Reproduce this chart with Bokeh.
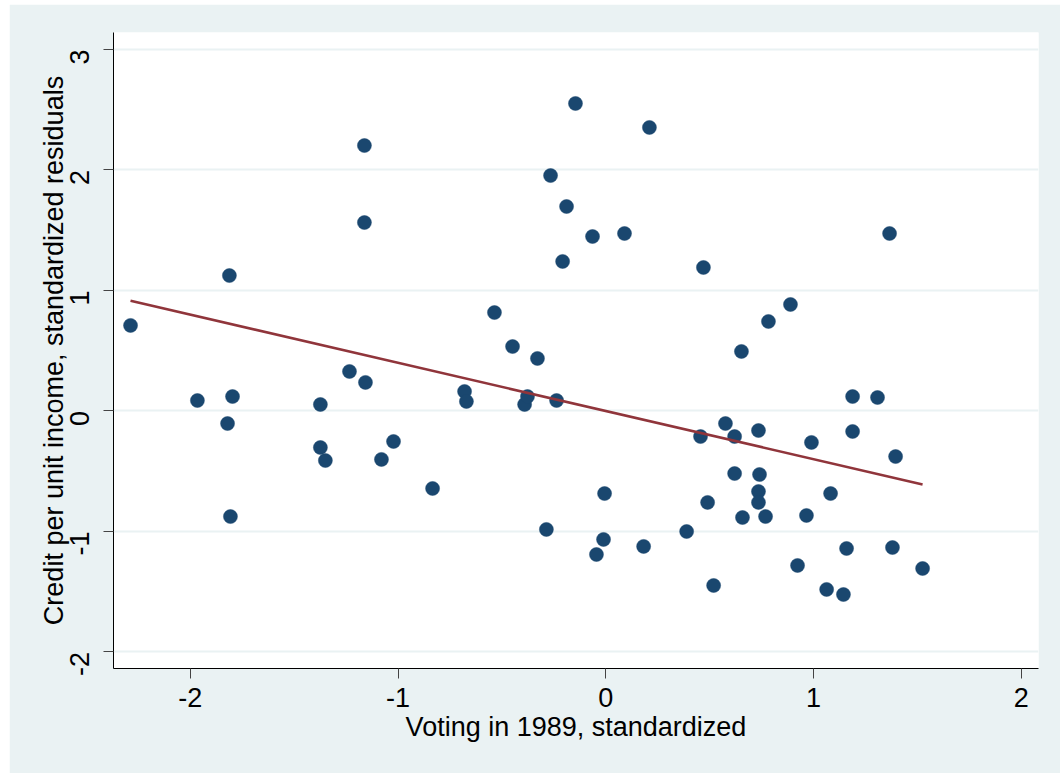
import math
from bokeh.plotting import figure
from bokeh.models import Range1d, FixedTicker, ColumnDataSource, CustomJSTickFormatter
from bokeh.embed import file_html
from bokeh.resources import INLINE

# Data
voting_1989 = [-2.288, -1.966, -1.812, -1.797, -1.821, -1.807, -1.374, -1.374, -1.350, -1.234,
               -1.157, -1.162, -1.162, -1.080, -1.022, -0.834, -0.680, -0.671, -0.536, -0.449,
               -0.391, -0.377, -0.329, -0.286, -0.266, -0.237, -0.208, -0.189, -0.146, -0.064,
               -0.045, -0.011, -0.006, 0.090, 0.182, 0.210, 0.389, 0.456, 0.470, 0.490,
               0.519, 0.576, 0.620, 0.620, 0.653, 0.658, 0.735, 0.740, 0.735, 0.735,
               0.769, 0.783, 0.889, 0.923, 0.966, 0.990, 1.063, 1.082, 1.144, 1.159,
               1.188, 1.188, 1.308, 1.366, 1.380, 1.395, 1.525]
credit_resid = [0.710, 0.087, 1.124, 0.120, -0.104, -0.876, 0.054, -0.303, -0.411, 0.328,
                0.237, 2.203, 1.564, -0.402, -0.253, -0.643, 0.162, 0.079, 0.817, 0.535,
                0.054, 0.120, 0.436, -0.983, 1.954, 0.087, 1.241, 1.697, 2.552, 1.448,
                -1.191, -1.066, -0.685, 1.473, -1.124, 2.353, -1.000, -0.212, 1.191, -0.759,
                -1.448, -0.104, -0.212, -0.519, 0.494, -0.884, -0.162, -0.527, -0.668, -0.759,
                -0.876, 0.743, 0.884, -1.282, -0.867, -0.261, -1.481, -0.685, -1.523, -1.141,
                0.120, -0.170, 0.112, 1.473, -1.133, -0.378, -1.307]
x_ticks = [-2, -1, 0, 1, 2]
y_ticks = [-2, -1, 0, 1, 2, 3]
fit_intercept = 0.0
fit_slope = -0.40

fit_x = [min(voting_1989), max(voting_1989)]
fit_y = [fit_intercept + fit_slope * v for v in fit_x]

FONT = "Liberation Sans"
BG = "#EAF2F3"

p = figure(width=1051, height=769, output_backend="svg", toolbar_location=None,
           x_range=Range1d(-2.370, 2.083), y_range=Range1d(-2.137, 3.141),
           min_border_left=104, min_border_right=22, min_border_top=28, min_border_bottom=105,
           margin=(4, 0, 0, 9))
p.background_fill_color = "white"
p.border_fill_color = BG
p.outline_line_color = None

p.xgrid.visible = False
p.ygrid.grid_line_color = BG
p.ygrid.grid_line_width = 2

p.xaxis.ticker = FixedTicker(ticks=x_ticks)
p.yaxis.ticker = FixedTicker(ticks=y_ticks)
fmt = "return tick.toFixed(0);"

for ax in (p.xaxis[0], p.yaxis[0]):
    ax.formatter = CustomJSTickFormatter(code=fmt)
    ax.axis_line_color = "black"
    ax.axis_line_width = 1
    ax.major_tick_line_color = "#444444"
    ax.major_tick_line_width = 1
    ax.major_tick_in = 0
    ax.major_tick_out = 10
    ax.minor_tick_line_color = None
    ax.major_label_text_font = FONT
    ax.major_label_text_font_size = "27px"
    ax.major_label_text_color = "black"
    ax.axis_label_text_font = FONT
    ax.axis_label_text_font_size = "27px"
    ax.axis_label_text_font_style = "normal"
    ax.axis_label_text_color = "black"

p.xaxis.axis_label = "Voting in 1989, standardized"
p.yaxis.axis_label = "Credit per unit income, standardized residuals"
p.xaxis.major_label_standoff = 9
p.xaxis.axis_label_standoff = 2
p.yaxis.major_label_standoff = 24
p.yaxis.axis_label_standoff = -11
p.yaxis.major_label_orientation = math.pi / 2

src = ColumnDataSource(data=dict(x=voting_1989, y=credit_resid))
p.scatter("x", "y", source=src, size=14, fill_color="#1A476F", line_color="#1A476F", line_width=0.5)
p.line(fit_x, fit_y, line_color="#90353B", line_width=2.6)

open("out.html", "w").write(file_html(p, INLINE))
